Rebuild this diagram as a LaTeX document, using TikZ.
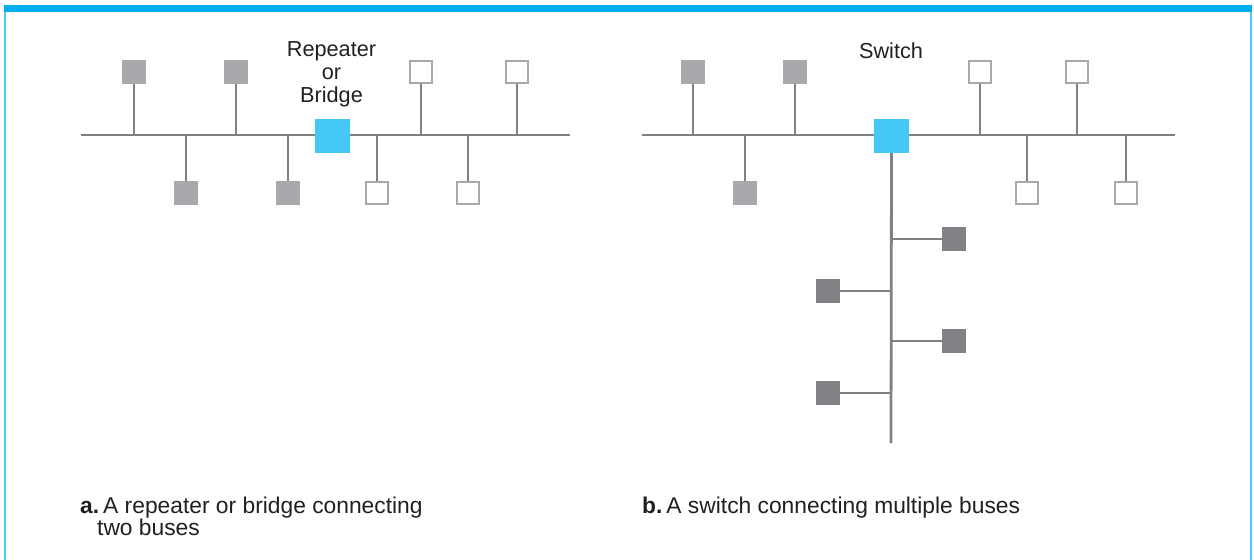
\documentclass[tikz,border=0pt]{standalone}
\usepackage{fontspec}
\setmainfont{Liberation Sans}
\usetikzlibrary{backgrounds}
\definecolor{frameblue}{HTML}{00AEEF}
\definecolor{sideblue}{HTML}{4FC8F4}
\definecolor{devblue}{HTML}{45C8F5}
\definecolor{lightgray}{HTML}{A7A9AC}
\definecolor{darkgray}{HTML}{808285}
\definecolor{wire}{HTML}{808182}
\definecolor{ink}{HTML}{231F20}
\tikzset{
  filledsq/.style={rectangle, fill=lightgray, minimum size=24pt, inner sep=0pt},
  darksq/.style={rectangle, fill=darkgray, minimum size=24pt, inner sep=0pt},
  opensq/.style={rectangle, draw=lightgray, line width=2.2pt, fill=white, minimum size=22pt, inner sep=0pt},
  devsq/.style={rectangle, fill=devblue, minimum width=35pt, minimum height=34pt, inner sep=0pt},
  wireline/.style={draw=wire, line width=2.8pt},
  lbl/.style={text=ink, font=\fontsize{21.7}{23.2}\selectfont, align=center, inner sep=0pt},
  captext/.style={text=ink, font=\fontsize{22.8}{21}\selectfont, align=left, inner sep=0pt, anchor=north west}
}
\begin{document}
\begin{tikzpicture}[x=1pt,y=-1pt]
\useasboundingbox (0,0) rectangle (1254,560);
% frame
\fill[frameblue] (4,5) rectangle (1252,12);
\draw[sideblue, line width=2pt] (5,12) -- (5,560);
\draw[sideblue, line width=2pt] (1251,12) -- (1251,560);

% ---------- panel a ----------
\coordinate (aL) at (81,135);
\coordinate (aR) at (570,135);
\node[filledsq] (a1) at (134,72) {};
\node[filledsq] (a2) at (236,72) {};
\node[opensq] (a3) at (421,72) {};
\node[opensq] (a4) at (517,72) {};
\node[filledsq] (a5) at (186,193) {};
\node[filledsq] (a6) at (288,193) {};
\node[opensq] (a7) at (377,193) {};
\node[opensq] (a8) at (468,193) {};
\node[devsq] (aDev) at (332.5,135.5) {};
\node[lbl] (aLbl) at (331.5,74) {Repeater\\or\\Bridge};
\begin{scope}[on background layer]
\draw[wireline] (aL) -- (aR);
\foreach \n in {a1,a2,a3,a4}{\draw[wireline] (\n.south) -- (\n.south |- aL);}
\foreach \n in {a5,a6,a7,a8}{\draw[wireline] (\n.north) -- (\n.north |- aL);}
\end{scope}
\node[captext] (aCap) at (80,497) {\textbf{a.}\hspace{4pt}A repeater or bridge connecting\\\hspace*{17pt}two buses};

% ---------- panel b ----------
\coordinate (bL) at (642,135);
\coordinate (bR) at (1175,135);
\node[filledsq] (b1) at (693,72) {};
\node[filledsq] (b2) at (795,72) {};
\node[opensq] (b3) at (980,72) {};
\node[opensq] (b4) at (1077,72) {};
\node[filledsq] (b5) at (745,193) {};
\node[opensq] (b6) at (1027,193) {};
\node[opensq] (b7) at (1126,193) {};
\node[devsq] (bDev) at (891.5,135.5) {};
\node[lbl] (bLbl) at (891,51) {Switch};
\coordinate (vEnd) at (891,443);
\node[darksq] (v1) at (954,239) {};
\node[darksq] (v2) at (828,291) {};
\node[darksq] (v3) at (954,341) {};
\node[darksq] (v4) at (828,393) {};
\begin{scope}[on background layer]
\draw[wireline] (bL) -- (bR);
\foreach \n in {b1,b2,b3,b4}{\draw[wireline] (\n.south) -- (\n.south |- bL);}
\foreach \n in {b5,b6,b7}{\draw[wireline] (\n.north) -- (\n.north |- bL);}
\draw[wireline] (bDev.south) -- (vEnd);
\draw[wireline] (v1.west) -- (v1.west -| vEnd);
\draw[wireline] (v3.west) -- (v3.west -| vEnd);
\draw[wireline] (v2.east) -- (v2.east -| vEnd);
\draw[wireline] (v4.east) -- (v4.east -| vEnd);
\end{scope}
\node[captext] (bCap) at (642,497) {\textbf{b.}\hspace{4pt}A switch connecting multiple buses};
\end{tikzpicture}
\end{document}
